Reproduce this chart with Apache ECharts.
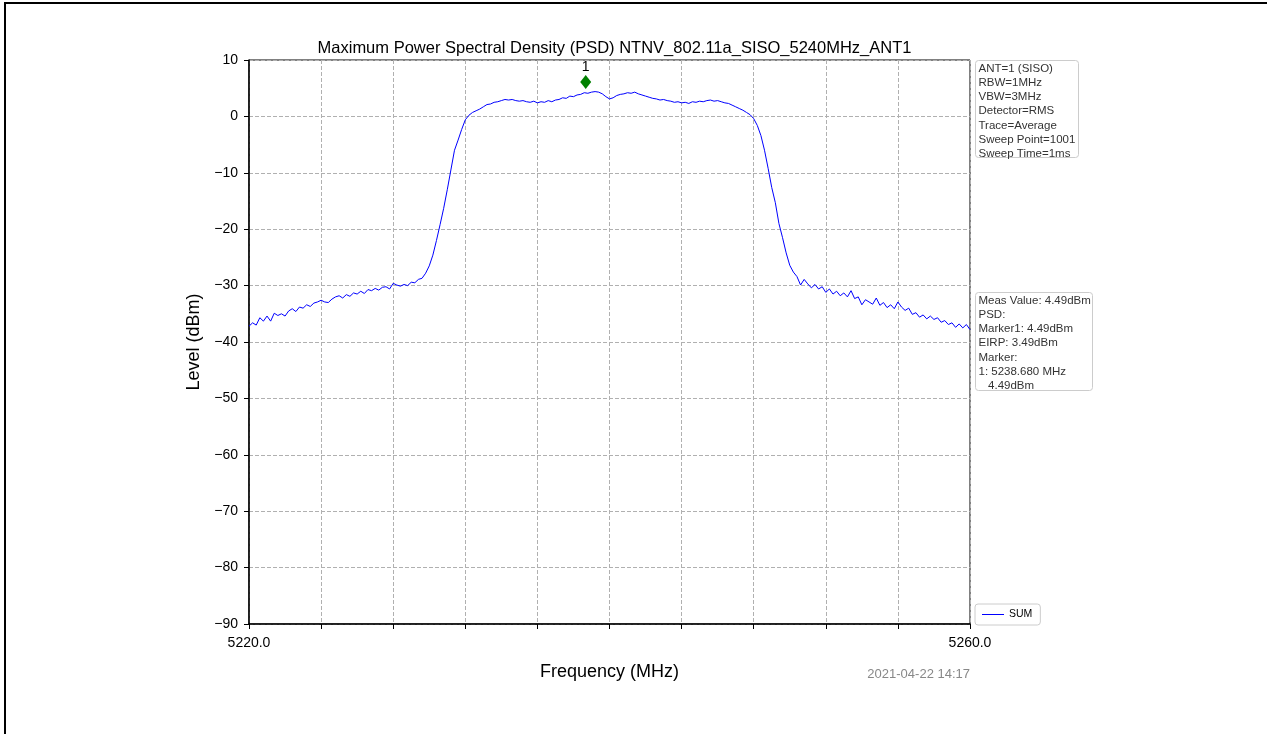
<!DOCTYPE html>
<html>
<head>
<meta charset="utf-8">
<script src="https://cdn.jsdelivr.net/npm/echarts@6/dist/echarts.min.js"></script>
<style>html,body{margin:0;padding:0;background:#fff;}#c{width:1267px;height:734px;}</style>
</head>
<body>
<div id="c"></div>
<script>
// ---- data ----
const titleText = 'Maximum Power Spectral Density (PSD) NTNV_802.11a_SISO_5240MHz_ANT1';
const freqStart = 5220.0;   // MHz
const freqStep = 0.2;       // MHz between samples
const xTickLabels = ['5220.0', '5260.0'];
const yTicks = [10, 0, -10, -20, -30, -40, -50, -60, -70, -80, -90];
const levelSUM = [
  -37.2,-36.6,-37.0,-35.7,-36.3,-35.4,-36.3,-34.9,-35.3,-35.0,
  -35.4,-34.5,-34.1,-34.6,-33.8,-34.0,-33.4,-33.7,-33.1,-32.9,
  -32.6,-32.9,-33.0,-32.4,-32.0,-31.8,-32.2,-31.6,-31.9,-31.3,
  -31.5,-31.0,-31.4,-30.7,-30.9,-30.5,-30.8,-30.3,-30.2,-30.6,
  -29.6,-29.9,-30.1,-29.8,-30.0,-29.4,-29.5,-28.9,-28.7,-27.8,
  -26.5,-24.6,-22.0,-19.2,-16.3,-13.0,
  -9.5,-6.0,-4.2,-2.3,-0.6,0.2,0.7,1.0,1.3,1.7,
  2.1,2.2,2.5,2.6,2.8,3.0,2.9,3.0,2.8,2.7,
  2.8,2.6,2.5,2.7,2.4,2.6,2.5,2.8,2.6,2.9,
  3.0,3.3,3.2,3.6,3.5,3.8,3.9,4.2,4.1,4.3,
  4.4,4.3,4.0,3.5,3.1,3.3,3.7,3.9,4.0,4.2,
  4.1,4.3,4.0,3.8,3.6,3.4,3.2,3.1,2.9,3.0,
  2.8,2.7,2.5,2.6,2.4,2.5,2.3,2.6,2.5,2.7,
  2.6,2.8,2.9,2.7,2.8,2.6,2.4,2.3,2.0,1.7,
  1.4,1.1,0.7,0.3,-0.4,-1.6,-3.4,-6.0,-9.2,-12.6,
  -15.3,-19.0,-21.5,-24.2,-26.4,-27.6,-28.4,-29.9,-28.9,-29.7,
  -30.4,-29.8,-30.6,-30.2,-31.2,-30.6,-31.5,-31.0,-31.8,-31.3,
  -32.0,-30.9,-32.3,-32.0,-33.4,-32.5,-32.9,-33.3,-32.2,-33.5,
  -33.0,-33.9,-33.4,-34.1,-32.9,-33.8,-34.4,-34.0,-35.1,-34.8,
  -35.6,-35.2,-35.9,-35.4,-36.0,-35.7,-36.5,-36.2,-36.9,-36.6,
  -37.4,-36.8,-37.5,-36.9,-37.8
];
const markerNames = ['1'];
const markerFreq = [5238.68];
const markerLevel = [4.49];
const infoLines1 = ['ANT=1 (SISO)', 'RBW=1MHz', 'VBW=3MHz', 'Detector=RMS', 'Trace=Average', 'Sweep Point=1001', 'Sweep Time=1ms'];
const infoLines2 = ['Meas Value: 4.49dBm', 'PSD:', 'Marker1: 4.49dBm', 'EIRP: 3.49dBm', 'Marker:', '1: 5238.680 MHz', '   4.49dBm'];
const timestamp = '2021-04-22 14:17';

// ---- build ----
const FONT = '"Liberation Sans", Arial, sans-serif';
const seriesData = levelSUM.map((v, i) => [+(freqStart + i * freqStep).toFixed(2), v]);
const chart = echarts.init(document.getElementById('c'), null, {renderer: 'canvas'});

function infoBox(x, y, w, h, lines) {
  return {
    type: 'group', left: x, top: y,
    children: [
      {type: 'rect', shape: {x: 0, y: 0, width: w, height: h, r: 3},
       style: {fill: '#fff', stroke: '#cccccc', lineWidth: 1}},
      {type: 'text', x: 3, y: 1,
       style: {text: lines.join('\n'), font: '11.5px ' + FONT, fill: '#333', lineHeight: 14.2}}
    ]
  };
}

const option = {
  animation: false,
  backgroundColor: '#fff',
  title: {
    text: titleText, left: 609.5, top: 35, textAlign: 'center',
    textStyle: {fontFamily: FONT, fontSize: 16.5, fontWeight: 'normal', color: '#000'}
  },
  grid: {left: 249, right: 297, top: 60, bottom: 110, show: true, borderColor: '#000', borderWidth: 1, backgroundColor: 'transparent'},
  xAxis: {
    type: 'value', min: 5220, max: 5260, interval: 4,
    name: 'Frequency (MHz)', nameLocation: 'middle', nameGap: 39,
    nameTextStyle: {fontFamily: FONT, fontSize: 18, color: '#000'},
    axisLine: {show: true, onZero: false, lineStyle: {color: '#000', width: 1.5}},
    axisTick: {show: true, length: 5, inside: false, lineStyle: {color: '#000'}},
    axisLabel: {
      fontFamily: FONT, fontSize: 14, color: '#000', margin: 12, showMinLabel: true, showMaxLabel: true,
      formatter: v => { const s = v.toFixed(1); return xTickLabels.indexOf(s) >= 0 ? s : ''; }
    },
    splitLine: {show: true, lineStyle: {color: '#b0b0b0', type: [4, 2], width: 1}}
  },
  yAxis: {
    type: 'value', min: -90, max: 10, interval: 10,
    name: 'Level (dBm)', nameLocation: 'middle', nameGap: 44,
    nameTextStyle: {fontFamily: FONT, fontSize: 18, color: '#000'},
    axisLine: {show: true, onZero: false, lineStyle: {color: '#000', width: 1.5}},
    axisTick: {show: true, length: 5, inside: false, lineStyle: {color: '#000'}},
    axisLabel: {fontFamily: FONT, fontSize: 14, color: '#000', margin: 11,
      formatter: v => yTicks.indexOf(v) >= 0 ? String(v).replace('-', '\u2212') : ''},
    splitLine: {show: true, lineStyle: {color: '#b0b0b0', type: [4, 2], width: 1}}
  },
  legend: {
    show: true, left: 975, top: 604, orient: 'vertical',
    backgroundColor: '#fff', borderColor: '#cccccc', borderWidth: 1, borderRadius: 3,
    padding: [5, 8, 5, 7], itemWidth: 22, itemHeight: 1, itemGap: 4,
    textStyle: {fontFamily: FONT, fontSize: 10.5, color: '#000'},
    data: [{name: 'SUM', icon: 'rect'}]
  },
  series: [{
    name: 'SUM', type: 'line', data: seriesData, showSymbol: false, symbol: 'none',
    lineStyle: {color: '#0000ff', width: 1}, itemStyle: {color: '#0000ff'},
    markPoint: {
      symbol: 'diamond', symbolSize: [11, 14], symbolOffset: [0, -9],
      itemStyle: {color: '#008000'},
      label: {show: true, position: 'top', distance: 1, color: '#000', fontSize: 14, fontFamily: FONT,
        formatter: p => p.name},
      data: markerNames.map((n, i) => ({name: n, coord: [markerFreq[i], markerLevel[i]]}))
    }
  }],
  graphic: [
    {type: 'rect', shape: {x: 5, y: 3, width: 1400, height: 900},
     style: {fill: 'none', stroke: '#000', lineWidth: 2}, silent: true},
    infoBox(975, 60, 103, 97, infoLines1),
    infoBox(975, 292, 117, 98, infoLines2),
    {type: 'text', right: 1267 - 970, top: 668,
     style: {text: timestamp, font: '13px ' + FONT, fill: '#888', textAlign: 'right'}}
  ]
};
chart.setOption(option);
</script>
</body>
</html>
